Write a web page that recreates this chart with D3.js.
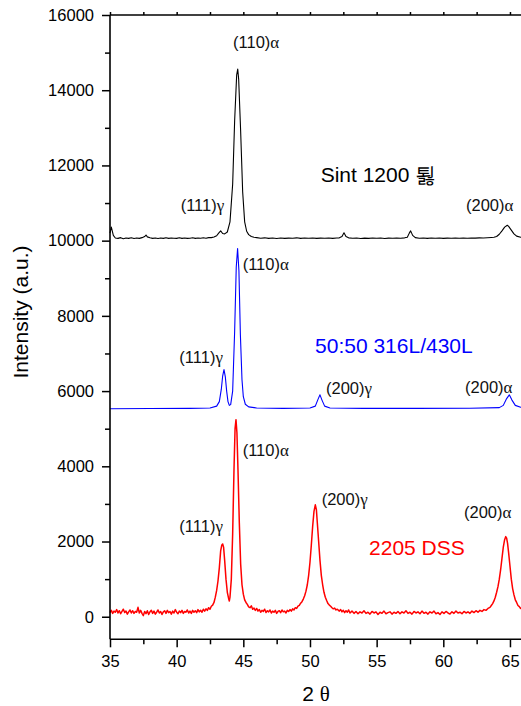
<!DOCTYPE html>
<html>
<head>
<meta charset="utf-8">
<script src="https://cdn.jsdelivr.net/npm/d3@7"></script>
<style>
	body { margin: 0; background: #fff; }
	text { font-family: "Liberation Sans", Arial, sans-serif; }
	.greek { font-family: "Liberation Serif", "Times New Roman", serif; }
</style>
</head>
<body>
<div id="chart-area"></div>
<script>
// 2theta / intensity pairs
const sint1200 = [
	[35.0, 10200], [35.1, 10360], [35.25, 10140], [35.4, 10070], [35.6, 10060], [35.8, 10080],
	[36.0, 10050], [36.2, 10070], [36.4, 10060], [36.6, 10075], [36.8, 10055], [37.0, 10070],
	[37.2, 10060], [37.4, 10080], [37.6, 10110], [37.7, 10150], [37.8, 10100], [38.0, 10075],
	[38.2, 10060], [38.4, 10070], [38.6, 10055], [38.8, 10070], [39.0, 10060], [39.2, 10075],
	[39.4, 10060], [39.6, 10070], [39.8, 10065], [40.0, 10060], [40.2, 10075], [40.4, 10060],
	[40.6, 10070], [40.8, 10060], [41.0, 10065], [41.2, 10075], [41.4, 10060], [41.6, 10070],
	[41.8, 10065], [42.0, 10075], [42.2, 10065], [42.4, 10080], [42.6, 10080], [42.8, 10095],
	[43.0, 10130], [43.15, 10200], [43.3, 10260], [43.45, 10190], [43.6, 10180], [43.8, 10230],
	[44.0, 10500], [44.2, 11500], [44.35, 13200], [44.5, 14400], [44.58, 14560], [44.65, 14300],
	[44.8, 12900], [44.95, 11300], [45.1, 10500], [45.25, 10250], [45.4, 10160], [45.6, 10110],
	[45.8, 10090], [46.0, 10080], [46.3, 10065], [46.6, 10075], [46.9, 10060], [47.2, 10070],
	[47.5, 10058], [47.8, 10072], [48.1, 10060], [48.4, 10068], [48.7, 10062], [49.0, 10075],
	[49.3, 10060], [49.6, 10070], [49.9, 10064], [50.2, 10072], [50.5, 10060], [50.8, 10068],
	[51.1, 10062], [51.4, 10070], [51.7, 10060], [52.0, 10072], [52.2, 10075], [52.4, 10110],
	[52.55, 10210], [52.7, 10110], [52.9, 10075], [53.2, 10062], [53.5, 10070], [53.8, 10058],
	[54.1, 10068], [54.4, 10060], [54.7, 10072], [55.0, 10062], [55.3, 10070], [55.6, 10058],
	[55.9, 10068], [56.2, 10062], [56.5, 10072], [56.8, 10064], [57.1, 10075], [57.3, 10090],
	[57.45, 10200], [57.55, 10260], [57.7, 10140], [57.9, 10080], [58.2, 10065], [58.5, 10072],
	[58.8, 10060], [59.1, 10070], [59.4, 10062], [59.7, 10072], [60.0, 10060], [60.3, 10068],
	[60.6, 10062], [60.9, 10072], [61.2, 10064], [61.5, 10070], [61.8, 10062], [62.1, 10072],
	[62.4, 10066], [62.7, 10074], [63.0, 10070], [63.3, 10078], [63.6, 10085], [63.8, 10090],
	[64.0, 10110], [64.2, 10170], [64.4, 10260], [64.6, 10360], [64.8, 10410], [64.9, 10380],
	[65.1, 10280], [65.3, 10180], [65.5, 10120], [65.8, 10090], [66.0, 10080]
];

const mix5050 = [
	[35.0, 5530], [38.0, 5535], [41.0, 5540], [42.5, 5550], [43.0, 5600], [43.2, 5720],
	[43.35, 6050], [43.45, 6400], [43.55, 6570], [43.65, 6380], [43.75, 6000], [43.85, 5720],
	[43.95, 5620], [44.05, 5640], [44.2, 6000], [44.35, 7600], [44.47, 9300], [44.57, 9790],
	[44.67, 9200], [44.78, 7500], [44.9, 6300], [45.0, 5850], [45.15, 5650], [45.4, 5580],
	[46.0, 5550], [48.0, 5540], [50.0, 5550], [50.4, 5600], [50.6, 5780], [50.75, 5900],
	[50.9, 5760], [51.1, 5600], [51.5, 5550], [54.0, 5540], [58.0, 5540], [62.0, 5545],
	[64.2, 5560], [64.5, 5620], [64.75, 5800], [64.95, 5900], [65.15, 5760], [65.4, 5620],
	[65.8, 5570], [66.0, 5560]
];

const dss2205 = [
	[35.0, 110], [35.1, 170], [35.2, 90], [35.3, 150], [35.4, 120], [35.5, 190], [35.6, 100],
	[35.7, 160], [35.8, 80], [35.9, 140], [36.0, 200], [36.1, 110], [36.2, 150], [36.3, 70],
	[36.4, 130], [36.5, 180], [36.6, 100], [36.7, 160], [36.8, 90], [36.9, 140], [37.0, 120],
	[37.1, 250], [37.2, 100], [37.3, 170], [37.4, 90], [37.5, 30], [37.6, 140], [37.7, 80],
	[37.8, 160], [37.9, 60], [38.0, 130], [38.1, 170], [38.2, 90], [38.3, 150], [38.4, 70],
	[38.5, 120], [38.6, 180], [38.7, 100], [38.8, 140], [38.9, 60], [39.0, 130], [39.1, 160],
	[39.2, 90], [39.3, 170], [39.4, 110], [39.5, 140], [39.6, 70], [39.7, 150], [39.8, 100],
	[39.9, 190], [40.0, 120], [40.1, 80], [40.2, 150], [40.3, 110], [40.4, 170], [40.5, 90],
	[40.6, 140], [40.7, 120], [40.8, 180], [40.9, 100], [41.0, 150], [41.1, 90], [41.2, 170],
	[41.3, 120], [41.4, 160], [41.5, 110], [41.6, 190], [41.7, 130], [41.8, 170], [41.9, 120],
	[42.0, 200], [42.1, 150], [42.2, 210], [42.3, 170], [42.4, 240], [42.5, 200], [42.6, 280],
	[42.7, 310], [42.8, 380], [42.9, 520], [43.0, 700], [43.1, 950], [43.2, 1300], [43.3, 1750],
	[43.38, 1900], [43.45, 1935], [43.52, 1850], [43.6, 1500], [43.7, 1000], [43.8, 650],
	[43.9, 480], [43.95, 420], [44.0, 520], [44.1, 1000], [44.2, 2200], [44.3, 3900],
	[44.38, 5000], [44.45, 5240], [44.52, 4900], [44.6, 3900], [44.7, 2500], [44.8, 1400],
	[44.9, 850], [45.0, 600], [45.1, 450], [45.2, 380], [45.3, 330], [45.4, 260], [45.5, 240],
	[45.6, 290], [45.7, 200], [45.8, 230], [45.9, 170], [46.0, 220], [46.1, 150], [46.2, 190],
	[46.3, 120], [46.4, 170], [46.5, 140], [46.6, 200], [46.7, 110], [46.8, 160], [46.9, 130],
	[47.0, 180], [47.1, 100], [47.2, 150], [47.3, 120], [47.4, 170], [47.5, 90], [47.6, 140],
	[47.7, 160], [47.8, 110], [47.9, 180], [48.0, 130], [48.1, 150], [48.2, 100], [48.3, 170],
	[48.4, 140], [48.5, 190], [48.6, 150], [48.7, 210], [48.8, 180], [48.9, 240], [49.0, 220],
	[49.1, 280], [49.2, 300], [49.3, 360], [49.4, 400], [49.5, 470], [49.6, 560], [49.7, 680],
	[49.8, 850], [49.9, 1100], [50.0, 1450], [50.1, 1900], [50.2, 2400], [50.3, 2800],
	[50.4, 2975], [50.48, 2850], [50.55, 2500], [50.65, 2000], [50.75, 1500], [50.85, 1100],
	[50.95, 850], [51.05, 650], [51.15, 520], [51.25, 430], [51.35, 350], [51.45, 310],
	[51.55, 280], [51.65, 240], [51.75, 210], [51.85, 230], [51.95, 180], [52.05, 200],
	[52.2, 150], [52.3, 190], [52.4, 130], [52.5, 170], [52.6, 110], [52.7, 160], [52.8, 120],
	[52.9, 180], [53.0, 100], [53.15, 150], [53.3, 90], [53.45, 140], [53.6, 80], [53.75, 130],
	[53.9, 100], [54.05, 160], [54.2, 90], [54.35, 120], [54.5, 70], [54.65, 140], [54.8, 100],
	[54.95, 130], [55.1, 60], [55.25, 120], [55.4, 90], [55.55, 150], [55.7, 80], [55.85, 110],
	[56.0, 130], [56.15, 70], [56.3, 120], [56.45, 90], [56.6, 140], [56.75, 80], [56.9, 130],
	[57.05, 100], [57.2, 160], [57.35, 90], [57.5, 120], [57.65, 70], [57.8, 140], [57.95, 100],
	[58.1, 130], [58.25, 80], [58.4, 150], [58.55, 90], [58.7, 120], [58.85, 70], [59.0, 130],
	[59.15, 100], [59.3, 150], [59.45, 80], [59.6, 110], [59.75, 60], [59.9, 130], [60.05, 90],
	[60.2, 140], [60.35, 100], [60.5, 70], [60.65, 130], [60.8, 90], [60.95, 150], [61.1, 100],
	[61.25, 120], [61.4, 80], [61.55, 140], [61.7, 100], [61.85, 130], [62.0, 90], [62.15, 150],
	[62.3, 110], [62.45, 160], [62.6, 120], [62.75, 170], [62.9, 140], [63.05, 190], [63.2, 170],
	[63.35, 220], [63.5, 250], [63.6, 300], [63.7, 350], [63.8, 420], [63.9, 520], [64.0, 650],
	[64.1, 800], [64.2, 1000], [64.3, 1250], [64.4, 1550], [64.5, 1850], [64.6, 2050],
	[64.68, 2130], [64.75, 2090], [64.82, 1950], [64.9, 1700], [65.0, 1350], [65.1, 1000],
	[65.2, 750], [65.3, 580], [65.4, 450], [65.5, 380], [65.6, 300], [65.7, 270], [65.8, 220],
	[65.9, 240], [66.0, 190]
];

const seriesNames = ['Sint 1200 \uD203', '50:50 316L/430L', '2205 DSS'];
const seriesColors = ['#000000', '#0000ff', '#ff0000'];
// where each sample name sits, in chart units (2theta, intensity)
const nameAnchors = [[50.8, 11550], [50.38, 7010], [54.43, 1640]];

// peak labels: plane, phase letter, anchor in chart units
const peakLabels = [
	['(110)', '\u03b1', 44.23, 15120], ['(111)', '\u03b3', 40.3, 10790], ['(200)', '\u03b1', 61.7, 10800],
	['(110)', '\u03b1', 44.95, 9220], ['(111)', '\u03b3', 40.2, 6750], ['(200)', '\u03b3', 51.2, 5920],
	['(200)', '\u03b1', 61.63, 5960],
	['(110)', '\u03b1', 44.95, 4270], ['(111)', '\u03b3', 40.2, 2260], ['(200)', '\u03b3', 50.88, 2970],
	['(200)', '\u03b1', 61.55, 2620]
];

const xTicks = [35, 40, 45, 50, 55, 60, 65];
const xMinorTicks = [37.5, 42.5, 47.5, 52.5, 57.5, 62.5];
const yTicks = [0, 2000, 4000, 6000, 8000, 10000, 12000, 14000, 16000];
const yMinorTicks = [1000, 3000, 5000, 7000, 9000, 11000, 13000, 15000];

const svgWidth = 521,
	svgHeight = 706;
const plot = {left: 110, right: 523.3, top: 15, bottom: 639.3};
const fontSans = '"Liberation Sans", Arial, sans-serif';

const svg = d3.select('#chart-area')
	.append('svg')
	.attr('width', svgWidth)
	.attr('height', svgHeight)
	.style('display', 'block');

svg.append('rect').attr('width', svgWidth).attr('height', svgHeight).attr('fill', '#fff');

const x = d3.scaleLinear().domain([35, 66]).range([plot.left, plot.right]);
const y = d3.scaleLinear().domain([-600, 16000]).range([plot.bottom, plot.top]);

// traces
const line = d3.line().x(d => x(d[0])).y(d => y(d[1]));
[sint1200, mix5050, dss2205].forEach((data, i) => {
	svg.append('path')
		.datum(data)
		.attr('fill', 'none')
		.attr('stroke', seriesColors[i])
		.attr('stroke-width', i === 2 ? 1.5 : 1.1)
		.attr('stroke-linejoin', 'round')
		.attr('d', line);
});

// axes
function styleAxis(g) {
	g.select('.domain').remove();
	g.selectAll('line').attr('stroke', '#000').attr('stroke-width', 1.5);
	g.selectAll('text').attr('font-size', '16.5px').attr('fill', '#000')
		.attr('font-family', fontSans);
}

svg.append('g')
	.attr('transform', `translate(0, ${plot.bottom})`)
	.call(d3.axisBottom(x).tickValues(xTicks).tickSize(8).tickPadding(8).tickFormat(d3.format('d')))
	.call(styleAxis);
svg.append('g')
	.attr('transform', `translate(0, ${plot.bottom})`)
	.call(d3.axisBottom(x).tickValues(xMinorTicks).tickSize(5).tickFormat(''))
	.call(styleAxis);
svg.append('g')
	.attr('transform', `translate(0, ${plot.top})`)
	.call(d3.axisTop(x).tickValues(xTicks.concat(xMinorTicks)).tickSize(3).tickFormat(''))
	.call(styleAxis);

svg.append('g')
	.attr('transform', `translate(${plot.left}, 0)`)
	.call(d3.axisLeft(y).tickValues(yTicks).tickSize(8).tickPadding(8).tickFormat(d3.format('d')))
	.call(styleAxis);
svg.append('g')
	.attr('transform', `translate(${plot.left}, 0)`)
	.call(d3.axisLeft(y).tickValues(yMinorTicks).tickSize(5).tickFormat(''))
	.call(styleAxis);

// frame lines
svg.append('line').attr('x1', plot.left).attr('x2', svgWidth).attr('y1', plot.bottom).attr('y2', plot.bottom)
	.attr('stroke', '#000').attr('stroke-width', 1.6);
svg.append('line').attr('x1', plot.left).attr('x2', svgWidth).attr('y1', plot.top).attr('y2', plot.top)
	.attr('stroke', '#000').attr('stroke-width', 1.6);
svg.append('line').attr('x1', plot.left).attr('x2', plot.left).attr('y1', plot.top).attr('y2', plot.bottom)
	.attr('stroke', '#000').attr('stroke-width', 1.6);

// axis titles
svg.append('text')
	.attr('x', -312)
	.attr('y', 28)
	.attr('transform', 'rotate(-90)')
	.attr('text-anchor', 'middle')
	.attr('font-family', fontSans)
	.attr('font-size', '21px')
	.text('Intensity (a.u.)');

const xTitle = svg.append('text')
	.attr('x', 316)
	.attr('y', 701)
	.attr('text-anchor', 'middle')
	.attr('font-family', fontSans)
	.attr('font-size', '21px');
xTitle.append('tspan').text('2 ');
xTitle.append('tspan').attr('class', 'greek').text('\u03b8');

// sample names
seriesNames.forEach((name, i) => {
	svg.append('text')
		.attr('x', x(nameAnchors[i][0]))
		.attr('y', y(nameAnchors[i][1]))
		.attr('font-family', fontSans)
		.attr('font-size', '21px')
		.attr('fill', seriesColors[i])
		.text(name);
});

// peak labels
peakLabels.forEach(p => {
	const t = svg.append('text')
		.attr('x', x(p[2]))
		.attr('y', y(p[3]))
		.attr('font-family', fontSans)
		.attr('font-size', '16.5px')
		.attr('fill', '#111');
	t.append('tspan').text(p[0]);
	t.append('tspan').attr('class', 'greek').attr('font-size', '17px').text(p[1]);
});
</script>
</body>
</html>
